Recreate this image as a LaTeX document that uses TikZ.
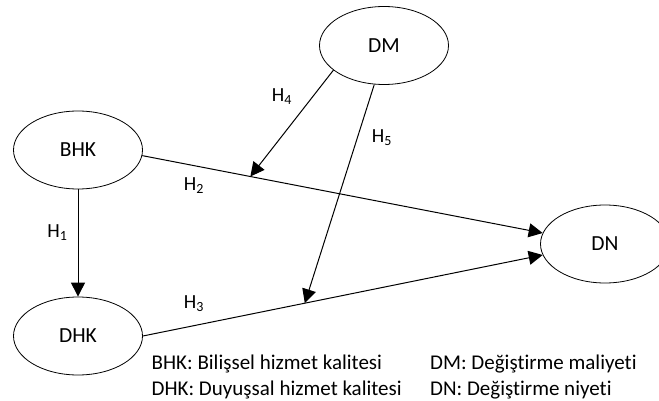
\documentclass[tikz,border=0pt]{standalone}
\usepackage{fontspec}
\setmainfont[RawFeature={-liga;-clig;-dlig;-calt}]{Carlito}
\usetikzlibrary{shapes.geometric,arrows.meta,calc}
\begin{document}
\begin{tikzpicture}[x=1pt,y=-1pt,
  oval/.style={ellipse,draw,line width=0.8pt,minimum width=129pt,minimum height=78pt,inner sep=0pt,font=\fontsize{21.5}{25}\selectfont},
  link/.style={line width=1pt,-{Triangle[length=14pt,width=14pt]}},
  hlab/.style={inner sep=0pt,font=\fontsize{20}{24}\selectfont},
  legend/.style={inner sep=0pt,anchor=base west,font=\fontsize{21}{25}\selectfont}]
\useasboundingbox (0,0) rectangle (659,401);
\node[oval] (DM) at (384,45.5) {DM};
\node[oval] (BHK) at (78,150) {BHK};
\node[oval] (DHK) at (78,336) {DHK};
\node[oval] (DN) at (605,244) {DN};
\coordinate (h4end) at ($(BHK.-5)!0.27!(DN.170)$);
\coordinate (h5end) at ($(DHK.east)!0.405!(DN.190)$);
\draw[link] (BHK.south) -- (DHK.north);
\draw[link] (BHK.-5) -- (DN.170);
\draw[link] (DHK.east) -- (DN.190);
\draw[link] (DM.206) -- (h4end);
\draw[link] (DM.256) -- (h5end);
\node[hlab] (l1) at (57.5,233) {H\textsubscript{1}};
\node[hlab] (l2) at (194,186) {H\textsubscript{2}};
\node[hlab] (l3) at (194,304) {H\textsubscript{3}};
\node[hlab] (l4) at (282,97) {H\textsubscript{4}};
\node[hlab] (l5) at (382,138) {H\textsubscript{5}};
\node[legend] (g1) at (151.5,369.5) {BHK: Bilişsel hizmet kalitesi};
\node[legend] (g2) at (151.5,395) {DHK: Duyuşsal hizmet kalitesi};
\node[legend] (g3) at (430,369.5) {DM: Değiştirme maliyeti};
\node[legend] (g4) at (430,395) {DN: Değiştirme niyeti};
\end{tikzpicture}
\end{document}
